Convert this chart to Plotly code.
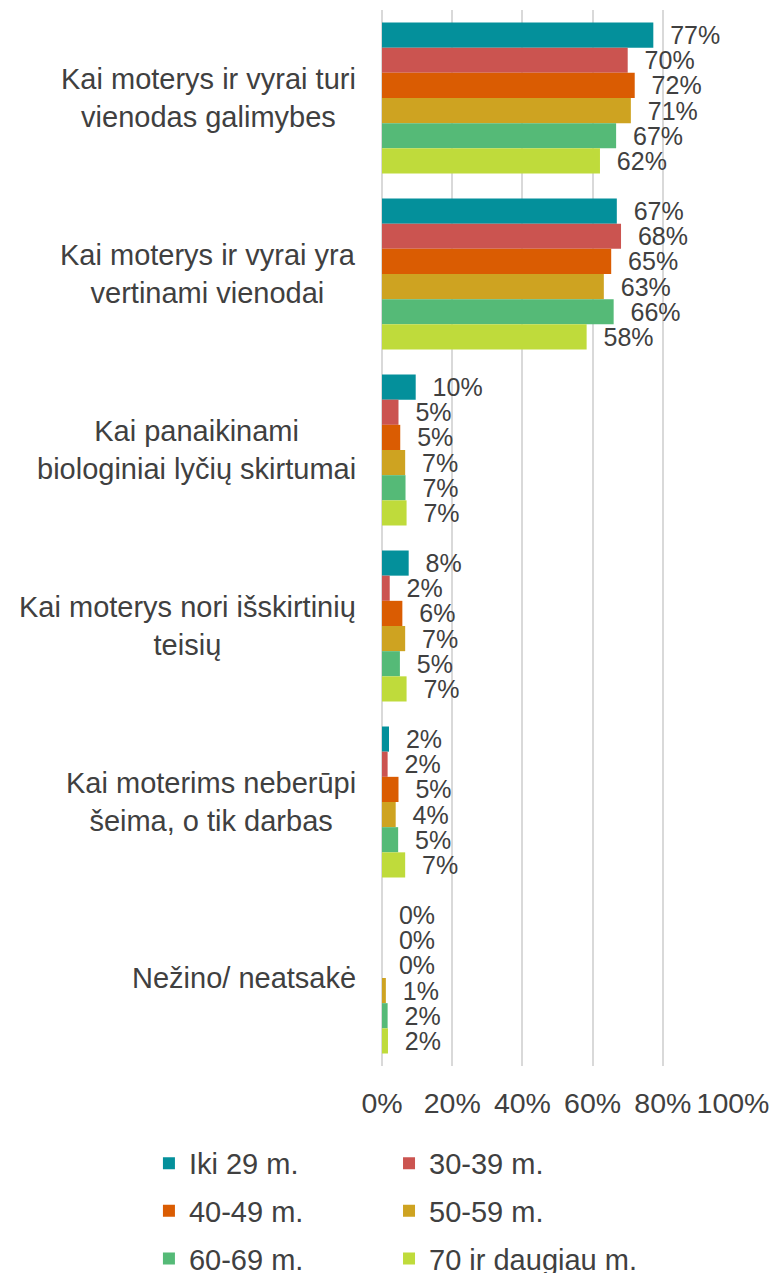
import plotly.graph_objects as go

categories = [
    "Kai moterys ir vyrai turi<br>vienodas galimybes",
    "Kai moterys ir vyrai yra<br>vertinami vienodai",
    "Kai panaikinami<br>biologiniai lyčių skirtumai",
    "Kai moterys nori išskirtinių<br>teisių",
    "Kai moterims neberūpi<br>šeima, o tik darbas",
    "Nežino/ neatsakė",
]

series_names = ["Iki 29 m.", "30-39 m.", "40-49 m.", "50-59 m.", "60-69 m.", "70 ir daugiau m."]

iki29 = [77.3, 66.9, 9.6, 7.6, 2.0, 0.0]
m30_39 = [70.0, 68.1, 4.7, 2.2, 1.6, 0.0]
m40_49 = [72.0, 65.3, 5.2, 5.8, 4.7, 0.0]
m50_59 = [70.9, 63.2, 6.6, 6.6, 3.9, 1.1]
m60_69 = [66.7, 66.0, 6.7, 5.1, 4.6, 1.6]
m70plus = [62.1, 58.3, 7.0, 7.0, 6.6, 1.7]

tick_vals = [0, 20, 40, 60, 80, 100]
tick_text = ["0%", "20%", "40%", "60%", "80%", "100%"]

series_values = [iki29, m30_39, m40_49, m50_59, m60_69, m70plus]
colors = ["#04909B", "#CB5450", "#DA5C02", "#CEA321", "#55BA77", "#BFDB3B"]
legend_ids = ["legend", "legend2", "legend", "legend2", "legend", "legend2"]

TEXT = "#404040"
FONT = "Liberation Sans, Arial, sans-serif"

fig = go.Figure()
for name, vals, col, lg in zip(series_names, series_values, colors, legend_ids):
    fig.add_trace(go.Bar(
        y=categories, x=vals, orientation="h", name=name,
        marker=dict(color=col, line=dict(width=0)),
        texttemplate="\u00a0\u00a0%{x:.0f}%", textposition="outside",
        constraintext="none", cliponaxis=False,
        textfont=dict(size=25, color=TEXT, family=FONT),
        legend=lg, legendgroup=name,
    ))

for cat in categories:
    fig.add_annotation(
        x=0, xref="paper", y=cat, yref="y", xanchor="right", yanchor="middle",
        xshift=-24, text=cat, showarrow=False, align="center",
        font=dict(size=29, color=TEXT, family=FONT),
    )

legend_common = dict(
    orientation="v", xanchor="left", yanchor="top",
    bgcolor="rgba(0,0,0,0)", tracegroupgap=7,
    font=dict(size=29, color=TEXT, family=FONT),
)

fig.update_layout(
    width=774, height=1273,
    margin=dict(l=382, r=41, t=10, b=207, autoexpand=False),
    paper_bgcolor="white", plot_bgcolor="white",
    barmode="group", bargap=0.142, bargroupgap=0,
    font=dict(family=FONT, color=TEXT),
    xaxis=dict(range=[0, 100], tickvals=tick_vals, ticktext=tick_text,
               showgrid=True, gridcolor="#D9D9D9", gridwidth=1.5,
               zeroline=True, zerolinecolor="#D9D9D9", zerolinewidth=1.5,
               showline=False, ticks="", ticklabelstandoff=17,
               tickfont=dict(size=28.5, color=TEXT, family=FONT), fixedrange=True),
    yaxis=dict(autorange="reversed", showticklabels=False, showgrid=False,
               zeroline=False, showline=False, ticks=""),
    legend=dict(x=-0.664, y=-0.068, **legend_common),
    legend2=dict(x=0.02, y=-0.068, **legend_common),
    showlegend=True,
)

fig.write_html(
    "out.html",
    config={"displayModeBar": False},
    post_script="document.body.style.margin='0';document.body.style.overflow='hidden';",
)
